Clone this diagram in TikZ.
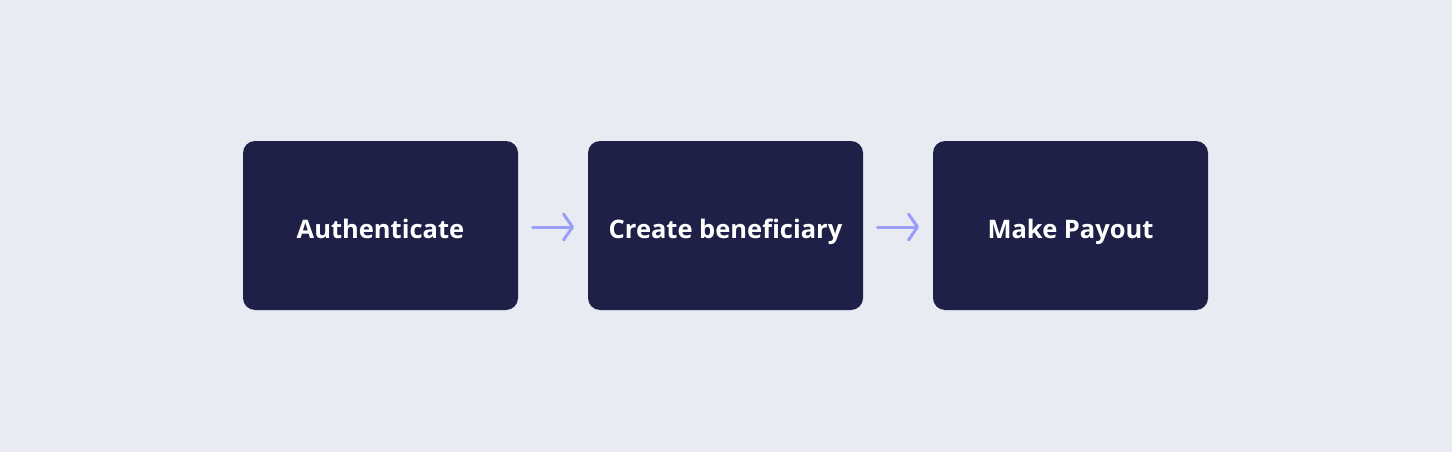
\documentclass[tikz,border=0pt]{standalone}
\usepackage{fontspec}
\setmainfont{Open Sans}
\usetikzlibrary{arrows.meta}
\definecolor{bg}{HTML}{E8EBF2}
\definecolor{boxc}{HTML}{1F2047}
\definecolor{arrc}{HTML}{9A9EF9}
\tikzset{
  stepbox/.style={fill=boxc, draw=none, rounded corners=12pt, minimum width=275pt, minimum height=169pt, inner sep=0pt,
    text height=28pt, text depth=3pt,
    text=white, font=\fontsize{25.5}{30}\selectfont\bfseries},
  flow/.style={draw=arrc, line width=3pt, line cap=round, -{Straight Barb[length=9pt,width=26pt,line cap=round,line join=round]}}
}
\begin{document}
\begin{tikzpicture}[x=1pt,y=-1pt]
\fill[bg] (0,0) rectangle (1452,452);
\useasboundingbox (0,0) rectangle (1452,452);
\node[stepbox] (a) at (380.5,225.5) {Authenticate};
\node[stepbox] (b) at (725.5,225.5) {Create beneficiary};
\node[stepbox] (c) at (1070.5,225.5) {Make Payout};
\coordinate (a1) at (532.5,227);
\coordinate (a2) at (574,227);
\coordinate (b1) at (877.5,227);
\coordinate (b2) at (919,227);
\draw[flow] (a1) -- (a2);
\draw[flow] (b1) -- (b2);
\end{tikzpicture}
\end{document}
